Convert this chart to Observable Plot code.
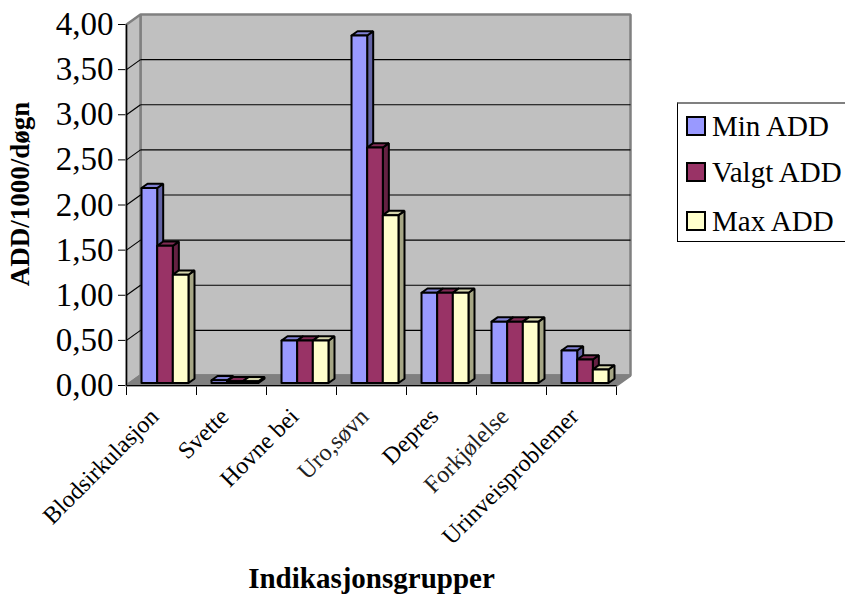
<!DOCTYPE html>
<html>
<head>
<meta charset="utf-8">
<script src="https://cdn.jsdelivr.net/npm/d3@7"></script>
<script src="https://cdn.jsdelivr.net/npm/@observablehq/plot@0.6"></script>
<style>
  html, body { margin: 0; padding: 0; background: #fff; overflow: hidden; }
  #wrap { position: relative; width: 845px; height: 595px; font-family: "Liberation Serif", "Times New Roman", serif; }
  #legend { position: absolute; left: 677px; top: 102px; width: 220px; height: 140px; box-sizing: border-box;
            border-left: 1px solid #000; border-bottom: 1px solid #000; border-top: 2px solid #808080; background: #fff; }
  .item { position: absolute; left: 8px; height: 30px; display: flex; align-items: center; font-size: 29px; color: #000; white-space: nowrap; }
  .sw { width: 16px; height: 16px; border: 2px solid #000; margin-right: 6px; flex: none; }
  g[aria-label="soft labels"] text { filter: blur(0.7px); }
</style>
</head>
<body>
<div id="wrap"></div>
<script>
// Indication groups along the x axis, and the labels printed under them
const categories = ["Blodsirkulasjon", "Svette", "Hovne bein", "Uro,søvn", "Depresjon", "Forkjølelse", "Urinveisproblemer"];
const tickLabels = ["Blodsirkulasjon", "Svette", "Hovne bei", "Uro,søvn", "Depres", "Forkjølelse", "Urinveisproblemer"];
const softLabels = [false, false, false, true, false, true, false];

// ADD per 1000 per day
const seriesNames = ["Min ADD", "Valgt ADD", "Max ADD"];
const minAdd   = [2.16, 0.03, 0.47, 3.85, 1.00, 0.68, 0.36];
const valgtAdd = [1.52, 0.02, 0.47, 2.61, 1.00, 0.68, 0.26];
const maxAdd   = [1.20, 0.02, 0.47, 1.86, 1.00, 0.68, 0.15];
const seriesColors = ["#9999ff", "#993366", "#ffffcc"];

const yTicks = [0, 0.5, 1, 1.5, 2, 2.5, 3, 3.5, 4];
const gridValues = [0.5, 1, 1.5, 2, 2.5, 3, 3.5];

// Layout
const W = 845, H = 595;
const mL = 126, mR = 229, mT = 24, mB = 210;
const xDomain = [0, categories.length];
const yDomain = [0, 4];

// Depth of the 3-D box (pixels), expressed in data units
const depthPx = [14, 10];
const DX = depthPx[0] * (xDomain[1] - xDomain[0]) / (W - mL - mR);
const DY = depthPx[1] * (yDomain[1] - yDomain[0]) / (H - mT - mB);

// Bar geometry within a category (fractions of a category / of the depth)
const groupWidth = 0.671;
const barWidth = groupWidth / 3;
const frontDepth = 0.25, backDepth = 0.68;

const series = [minAdd, valgtAdd, maxAdd];

// Polygon helper: closed outline rows for a line mark
function polygon(id, fill, pts) {
  return [...pts, pts[0]].map(([x, y]) => ({id, fill, x, y}));
}

// Walls and floor of the box
const walls = [
  ...polygon("back", "#c0c0c0", [[DX, DY], [xDomain[1] + DX, DY], [xDomain[1] + DX, yDomain[1] + DY], [DX, yDomain[1] + DY]]),
  ...polygon("left", "#c0c0c0", [[0, 0], [0, yDomain[1]], [DX, yDomain[1] + DY], [DX, DY]]),
  ...polygon("floor", "#808080", [[0, 0], [xDomain[1], 0], [xDomain[1] + DX, DY], [DX, DY]])
];

// Bars: side, top and front face for each bar, painted left to right
const bars = [];
categories.forEach((cat, c) => {
  series.forEach((vals, s) => {
    const v = vals[c];
    const base = d3.color(seriesColors[s]);
    const side = base.darker(1.2).formatHex();
    const top = base.darker(0.5).formatHex();
    const x1 = c + (1 - groupWidth) / 2 + s * barWidth;
    const x2 = x1 + barWidth;
    const fx = frontDepth * DX, fy = frontDepth * DY;
    const bx = backDepth * DX, by = backDepth * DY;
    const key = `${c}-${s}`;
    bars.push(...polygon(key + "-side", side, [[x2 + fx, fy], [x2 + fx, v + fy], [x2 + bx, v + by], [x2 + bx, by]]));
    bars.push(...polygon(key + "-top", top, [[x1 + fx, v + fy], [x2 + fx, v + fy], [x2 + bx, v + by], [x1 + bx, v + by]]));
    bars.push(...polygon(key + "-front", seriesColors[s], [[x1 + fx, fy], [x2 + fx, fy], [x2 + fx, v + fy], [x1 + fx, v + fy]]));
  });
});

const idx = d3.range(categories.length);
const fmt = d => d.toFixed(2).replace(".", ",");

const chart = Plot.plot({
  width: W,
  height: H,
  marginLeft: mL,
  marginRight: mR,
  marginTop: mT,
  marginBottom: mB,
  style: {fontFamily: "'Liberation Serif', 'Times New Roman', serif", fontSize: "33px", color: "#000", background: "transparent", overflow: "visible"},
  x: {domain: xDomain, ticks: d3.range(categories.length + 1), tickFormat: () => "", tickSize: 10, label: null},
  y: {domain: yDomain, ticks: yTicks, tickFormat: fmt, tickSize: 8, tickPadding: 5, label: null},
  color: {type: "identity"},
  marks: [
    // box walls
    Plot.line(walls, {x: "x", y: "y", z: "id", fill: "fill", stroke: "#808080", strokeWidth: 2.5, strokeLinejoin: "miter", curve: "linear"}),
    // gridlines on the back wall
    Plot.link(gridValues, {x1: () => DX, x2: () => xDomain[1] + DX, y1: d => d + DY, y2: d => d + DY, stroke: "#000", strokeWidth: 1.2}),
    // gridlines running across the left wall
    Plot.link(gridValues, {x1: () => 0, x2: () => DX, y1: d => d, y2: d => d + DY, stroke: "#000", strokeWidth: 1.2}),
    // bars
    Plot.line(bars, {x: "x", y: "y", z: "id", fill: "fill", stroke: "#000", strokeWidth: 2, strokeLinejoin: "miter", curve: "linear"}),
    // front axis lines
    Plot.link([0], {x1: () => 0, x2: () => 0, y1: () => yDomain[0], y2: () => yDomain[1], stroke: "#000", strokeWidth: 1.2}),
    Plot.link([0], {x1: () => 0, x2: () => xDomain[1], y1: () => 0, y2: () => 0, stroke: "#000", strokeWidth: 1.2}),
    // category labels
    Plot.text(idx.filter(i => !softLabels[i]), {x: i => i + 0.5, y: () => 0, text: i => tickLabels[i], rotate: -45, textAnchor: "end", lineAnchor: "middle", dx: -7, dy: 27, fontSize: 24, fill: "#000"}),
    Plot.text(idx.filter(i => softLabels[i]), {x: i => i + 0.5, y: () => 0, text: i => tickLabels[i], rotate: -45, textAnchor: "end", lineAnchor: "middle", dx: -7, dy: 27, fontSize: 24, fill: "#222", ariaLabel: "soft labels"}),
    // axis titles
    Plot.text(["ADD/1000/døgn"], {frameAnchor: "left", text: d => d, rotate: -90, textAnchor: "middle", lineAnchor: "middle", dx: -106, dy: -11, fontSize: 27, fontWeight: "bold", fill: "#000"}),
    Plot.text(["Indikasjonsgrupper"], {frameAnchor: "bottom", text: d => d, textAnchor: "middle", lineAnchor: "middle", dy: 193, fontSize: 29, fontWeight: "bold", fill: "#000"})
  ]
});

const wrap = document.getElementById("wrap");
wrap.appendChild(chart);

// legend box at the right
const legend = document.createElement("div");
legend.id = "legend";
const rowTops = [7, 53, 102];
seriesNames.forEach((name, s) => {
  const item = document.createElement("div");
  item.className = "item";
  item.style.top = rowTops[s] + "px";
  const sw = document.createElement("div");
  sw.className = "sw";
  sw.style.background = seriesColors[s];
  const label = document.createElement("span");
  label.textContent = name;
  item.appendChild(sw);
  item.appendChild(label);
  legend.appendChild(item);
});
wrap.appendChild(legend);
</script>
</body>
</html>
